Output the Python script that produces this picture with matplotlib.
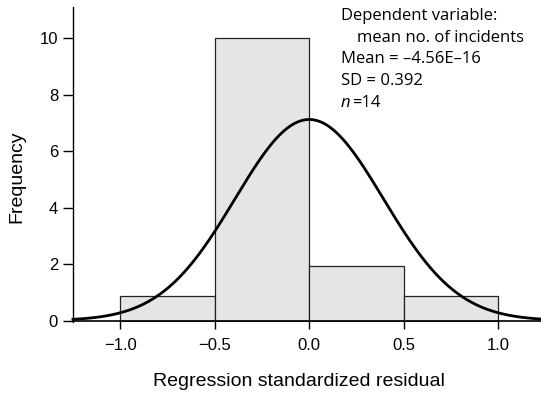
import matplotlib.pyplot as plt
import numpy as np

BIN_EDGES = [-1.0, -0.5, 0.0, 0.5, 1.0]
COUNTS = [0.88, 10.0, 1.93, 0.88]
MEAN = -4.56e-16
SD = 0.392
N = 14
X_TICKS = [-1.0, -0.5, 0.0, 0.5, 1.0]
Y_TICKS = [0, 2, 4, 6, 8, 10]

fig = plt.figure(figsize=(5.41, 3.98), dpi=100)
ax = fig.add_axes([0.1349, 0.191, 0.8734, 0.7907])

widths = np.diff(BIN_EDGES)
ax.bar(BIN_EDGES[:-1], COUNTS, width=widths, align="edge",
       color="#e5e5e7", edgecolor="#222222", linewidth=0.9, zorder=1)

# fitted normal curve scaled to the histogram
bw = widths[0]
x = np.linspace(-1.25, 1.25, 400)
y = N * bw * np.exp(-0.5 * ((x - MEAN) / SD) ** 2) / (SD * np.sqrt(2 * np.pi))
ax.plot(x, y, color="black", lw=2.0, zorder=3, clip_on=False)

ax.set_xlim(-1.25, 1.25)
ax.set_ylim(-0.05, 11.1)
ax.set_xticks(X_TICKS)
ax.set_xticklabels(["\u22121.0", "\u22120.5", "0.0", "0.5", "1.0"])
ax.set_yticks(Y_TICKS)

for s in ["top", "right"]:
    ax.spines[s].set_visible(False)
ax.spines["left"].set_linewidth(1.0)
ax.spines["bottom"].set_linewidth(1.2)
ax.spines["bottom"].set_position(("data", 0))

tick_font = "Liberation Sans"
ax.tick_params(axis="y", direction="out", length=7.2, width=1.0, pad=3.5,
               labelsize=12)
ax.tick_params(axis="x", direction="out", length=5.8, width=1.0, pad=7,
               labelsize=12)
for lab in ax.get_xticklabels() + ax.get_yticklabels():
    lab.set_fontfamily(tick_font)

ax.set_xlabel("Regression standardized residual", fontsize=14,
              fontfamily=tick_font)
ax.xaxis.set_label_coords(0.479, -0.162)
ax.set_ylabel("Frequency", fontsize=14, fontfamily=tick_font)
ax.yaxis.set_label_coords(-0.1016, 0.461)

ann = dict(fontsize=12, fontfamily="Open Sans", va="baseline",
           ha="left", transform=fig.transFigure)
W, H = 541, 398
fig.text(341 / W, 1 - 20 / H, "Dependent variable:", **ann)
fig.text(357 / W, 1 - 41.7 / H, "mean no. of incidents", **ann)
fig.text(341 / W, 1 - 63.3 / H, "Mean = \u20134.56E\u201316", **ann)
fig.text(341 / W, 1 - 85 / H, "SD = 0.392", **ann)
fig.text(341 / W, 1 - 106.7 / H, "n", style="italic", **ann)
fig.text(352 / W, 1 - 106.7 / H, "=14", **ann)

fig.savefig("out.png", dpi=100)
